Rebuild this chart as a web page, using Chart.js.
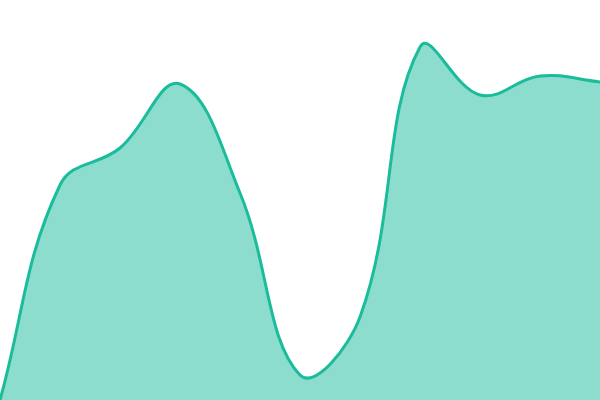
<!DOCTYPE html>
<html>
<head>
<meta charset="utf-8">
<script src="https://cdn.jsdelivr.net/npm/chart.js@4/dist/chart.umd.min.js"></script>
<style>
html,body{margin:0;padding:0;background:#fff;}
#wrap{width:600px;height:400px;}
</style>
</head>
<body>
<div id="wrap"><canvas id="c" width="600" height="400"></canvas></div>
<script>
const categories = ["1","2","3","4","5","6","7","8","9","10","11"];
const values = [0, 215, 252, 316, 207, 25, 83, 353, 305, 324, 318];
const yMin = 0;
const yMax = 400;

new Chart(document.getElementById('c'), {
  type: 'line',
  data: {
    labels: categories,
    datasets: [{
      data: values,
      borderColor: '#1abc9c',
      backgroundColor: 'rgba(26,188,156,0.5)',
      borderWidth: 3,
      fill: 'start',
      tension: 0.4,
      pointRadius: 0
    }]
  },
  options: {
    responsive: false,
    animation: false,
    layout: { padding: 0 },
    plugins: { legend: { display: false }, tooltip: { enabled: false } },
    scales: {
      x: { display: false, offset: false },
      y: { display: false, min: yMin, max: yMax }
    }
  }
});
</script>
</body>
</html>
